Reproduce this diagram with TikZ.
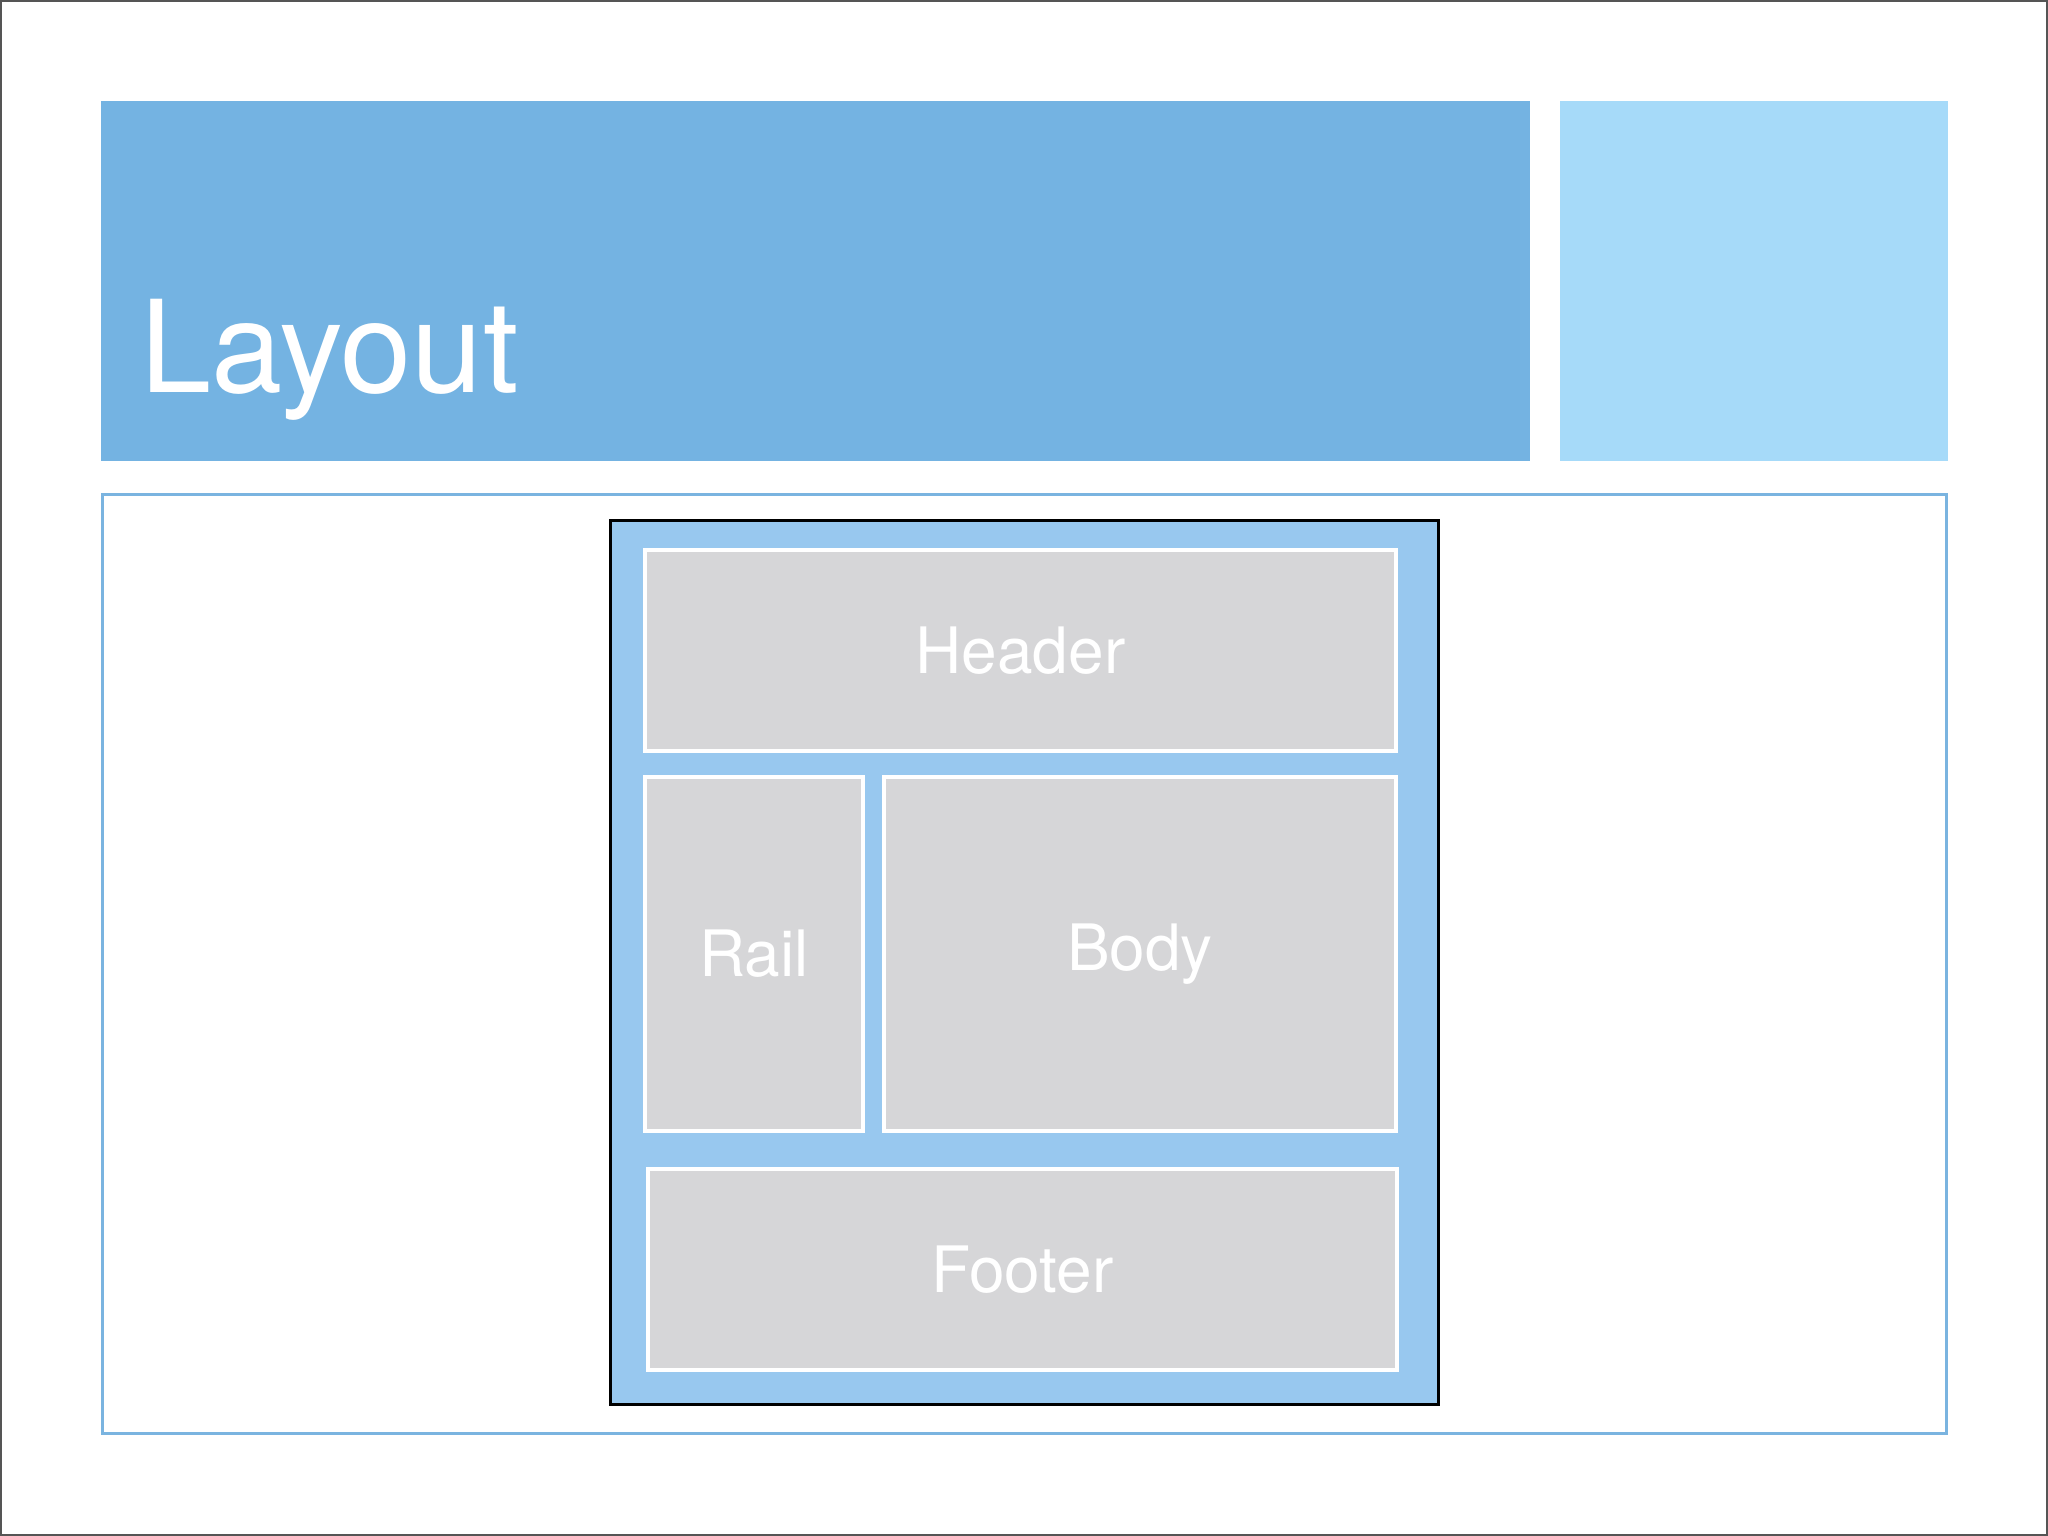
\documentclass[tikz,border=0pt]{standalone}
\usepackage{fontspec}
\setmainfont{TeX Gyre Heros}
\definecolor{titleblue}{HTML}{74B3E2}
\definecolor{sideblue}{HTML}{A6DAF9}
\definecolor{frameblue}{HTML}{7AB4E0}
\definecolor{innerblue}{HTML}{98C8EF}
\definecolor{cellgray}{HTML}{D6D6D8}
\definecolor{edgegray}{HTML}{555555}
\tikzset{
  panel/.style={rectangle, inner sep=0pt, outer sep=0pt},
  cell/.style={panel, fill=cellgray, draw=white, line width=3.5pt, text=white,
    font=\fontsize{64}{76}\selectfont},
}
\begin{document}
\begin{tikzpicture}[x=1pt,y=-1pt]
\useasboundingbox (0,0) rectangle (2048,1536);
\draw[edgegray, line width=2pt] (1,1) rectangle (2047,1535);
\node[panel, fill=titleblue, anchor=north west, minimum width=1429pt, minimum height=360.5pt] (title) at (100.6,100.6) {};
\node[panel, fill=sideblue, anchor=north west, minimum width=388pt, minimum height=360.5pt] (side) at (1559.5,100.6) {};
\node[anchor=base west, inner sep=0pt, text=white, font=\fontsize{128}{150}\selectfont] (layout) at (140,392) {Layout};
\node[panel, draw=frameblue, line width=3pt, minimum width=1844pt, minimum height=939pt] (content) at (1024,963.5) {};
\node[panel, fill=innerblue, draw=black, line width=3pt, minimum width=828pt, minimum height=884pt] (inner) at (1024,962) {};
\node[cell, minimum width=751pt, minimum height=201pt] (header) at (1020.5,650.5) {Header};
\node[cell, minimum width=218pt, minimum height=354pt] (rail) at (754,954) {Rail};
\node[cell, minimum width=512pt, minimum height=354pt] (body) at (1140,954) {Body};
\node[cell, minimum width=749pt, minimum height=201pt] (footer) at (1022.5,1269.5) {Footer};
\end{tikzpicture}
\end{document}
